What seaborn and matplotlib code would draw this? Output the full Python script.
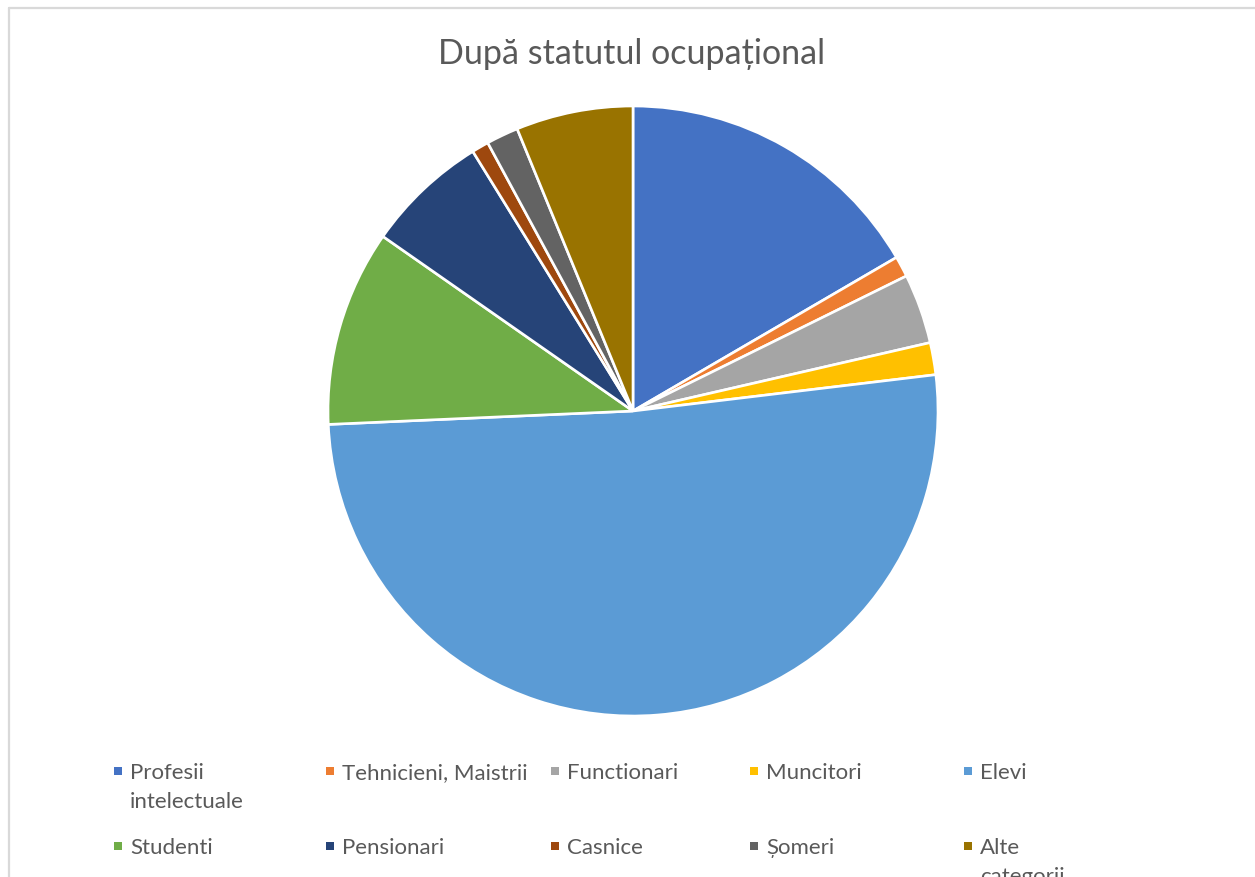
import matplotlib
matplotlib.use("Agg")
import matplotlib.pyplot as plt
import seaborn as sns
from matplotlib.patches import Rectangle
from matplotlib.lines import Line2D

# ==========================================================
# Data
# ==========================================================

categories = [
    "Profesii\nintelectuale",
    "Tehnicieni, Maistrii",
    "Functionari",
    "Muncitori",
    "Elevi",
    "Studenti",
    "Pensionari",
    "Casnice",
    "Șomeri",
    "Alte\ncategorii",
]
shares = [16.6, 1.1, 3.7, 1.7, 51.2, 10.4, 6.5, 0.9, 1.7, 6.2]
colors = [
    "#4472C4", "#ED7D31", "#A5A5A5", "#FFC000", "#5B9BD5",
    "#70AD47", "#264478", "#9E480E", "#636363", "#997300",
]
title = "După statutul ocupațional"

# ==========================================================
# Figure
# ==========================================================

sns.set_theme(style="white")
plt.rcParams["font.family"] = ["Lato", "DejaVu Sans"]

W, H = 1255, 878
fig = plt.figure(figsize=(W / 100, H / 100), dpi=100)


def fx(px):
    return px / W


def fy(py):
    return 1 - py / H


# chart frame (top and left edges visible)
fig.add_artist(Line2D([fx(9), fx(9)], [fy(9), 0], color="#D9D9D9", lw=1.6))
fig.add_artist(Line2D([fx(9), 1], [fy(9), fy(9)], color="#D9D9D9", lw=1.6))

cx, cy, r = 633, 412, 305
ax = fig.add_axes([fx(cx - r), fy(cy + r), fx(2 * r), (2 * r) / H])
ax.pie(
    shares,
    colors=colors,
    startangle=90,
    counterclock=False,
    wedgeprops={"edgecolor": "white", "linewidth": 1.9},
)
ax.set_xlim(-1, 1)
ax.set_ylim(-1, 1)
ax.set_aspect("equal")
ax.axis("off")

fig.text(fx(632), fy(54), title, ha="center", va="center",
         fontsize=24.5, color="#595959")

# ==========================================================
# Legend (Excel style, 5 columns x 2 rows)
# ==========================================================

col_x = [130, 342, 567, 766, 980]
row_y = [771, 846]
for i, (label, c) in enumerate(zip(categories, colors)):
    x = col_x[i % 5]
    y = row_y[i // 5]
    fig.add_artist(Rectangle((fx(x - 16), fy(y + 5)), fx(8), 8 / H,
                             facecolor=c, edgecolor="none"))
    fig.text(fx(x), fy(y - 8), label, ha="left", va="top",
             fontsize=16, color="#595959", linespacing=1.55,
             transform=fig.transFigure)

fig.savefig("out.png", dpi=100)
